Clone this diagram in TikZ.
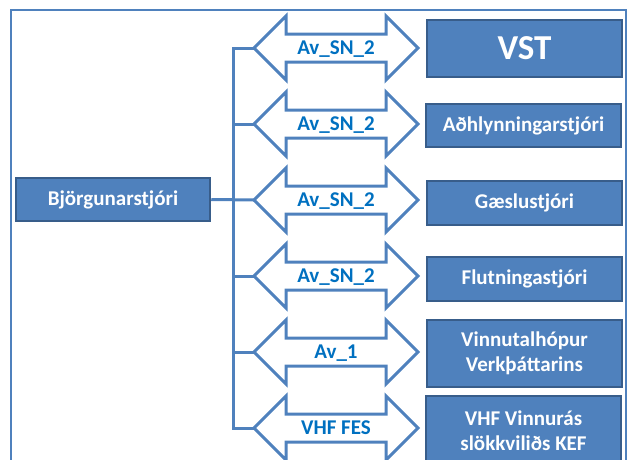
\documentclass[tikz,border=0pt]{standalone}
\usepackage{fontspec}
\setmainfont{Carlito}
\definecolor{boxfill}{HTML}{4F81BD}
\definecolor{boxline}{HTML}{385D8A}
\definecolor{labtext}{HTML}{0070C0}
\tikzset{
  box/.style={draw=boxline, line width=2.5pt, fill=boxfill, text=white,
    font=\bfseries\fontsize{21}{25}\selectfont, minimum width=195pt, align=center, inner sep=2pt},
  link/.style={text=labtext, font=\bfseries\fontsize{21}{25}\selectfont, inner sep=0pt, anchor=base},
  arrowline/.style={draw=boxfill, line width=3pt},
  conn/.style={draw=boxfill, line width=3pt},
}
\begin{document}
\begin{tikzpicture}[x=1pt,y=-1pt]
        \useasboundingbox (0,0) rectangle (630,459);
        \draw[boxfill, line width=1.5pt] (11,10) rectangle (626,475);
        \node[box, minimum width=194pt, minimum height=43pt] (bjorg) at (113,199.5) {Björgunarstjóri};
        \foreach \n/\y/\lab in {1/48/Av\_SN\_2, 2/124/Av\_SN\_2, 3/200/Av\_SN\_2, 4/276/Av\_SN\_2, 5/352/Av\_1, 6/428/VHF FES}{
          \node[link] (av\n) at (336,\y+6.5) {\lab};
          \draw[arrowline] (336,\y) ++(-82,0) coordinate (tip\n) -- ++(32,-32) -- ++(0,18) -- ++(100,0) -- ++(0,-18)
            -- ++(32,32) -- ++(-32,32) -- ++(0,-18) -- ++(-100,0) -- ++(0,18) -- cycle;
        }
        \node[box, minimum height=57pt, font=\bfseries\fontsize{35}{40}\selectfont] (vst) at (524.5,48.5) {VST};
        \node[box, minimum height=43pt] (adh) at (523.5,125.5) {Aðhlynningarstjóri};
        \node[box, minimum height=44pt] (gaes) at (524.5,203) {Gæslustjóri};
        \node[box, minimum height=44pt] (flut) at (524.5,279) {Flutningastjóri};
        \node[box, minimum height=67pt] (vinn) at (524.5,353.5) {Vinnutalhópur\\Verkþáttarins};
        \node[box, minimum height=70pt] (vhf) at (523.5,431) {VHF Vinnurás\\slökkviliðs KEF};
        \draw[conn] (bjorg.east) -- (tip3);
        \draw[conn] (tip1) -- ++(-21,0) |- (tip6);
        \draw[conn] (tip2) -- ++(-21,0);
        \draw[conn] (tip4) -- ++(-21,0);
        \draw[conn] (tip5) -- ++(-21,0);
\end{tikzpicture}
\end{document}
